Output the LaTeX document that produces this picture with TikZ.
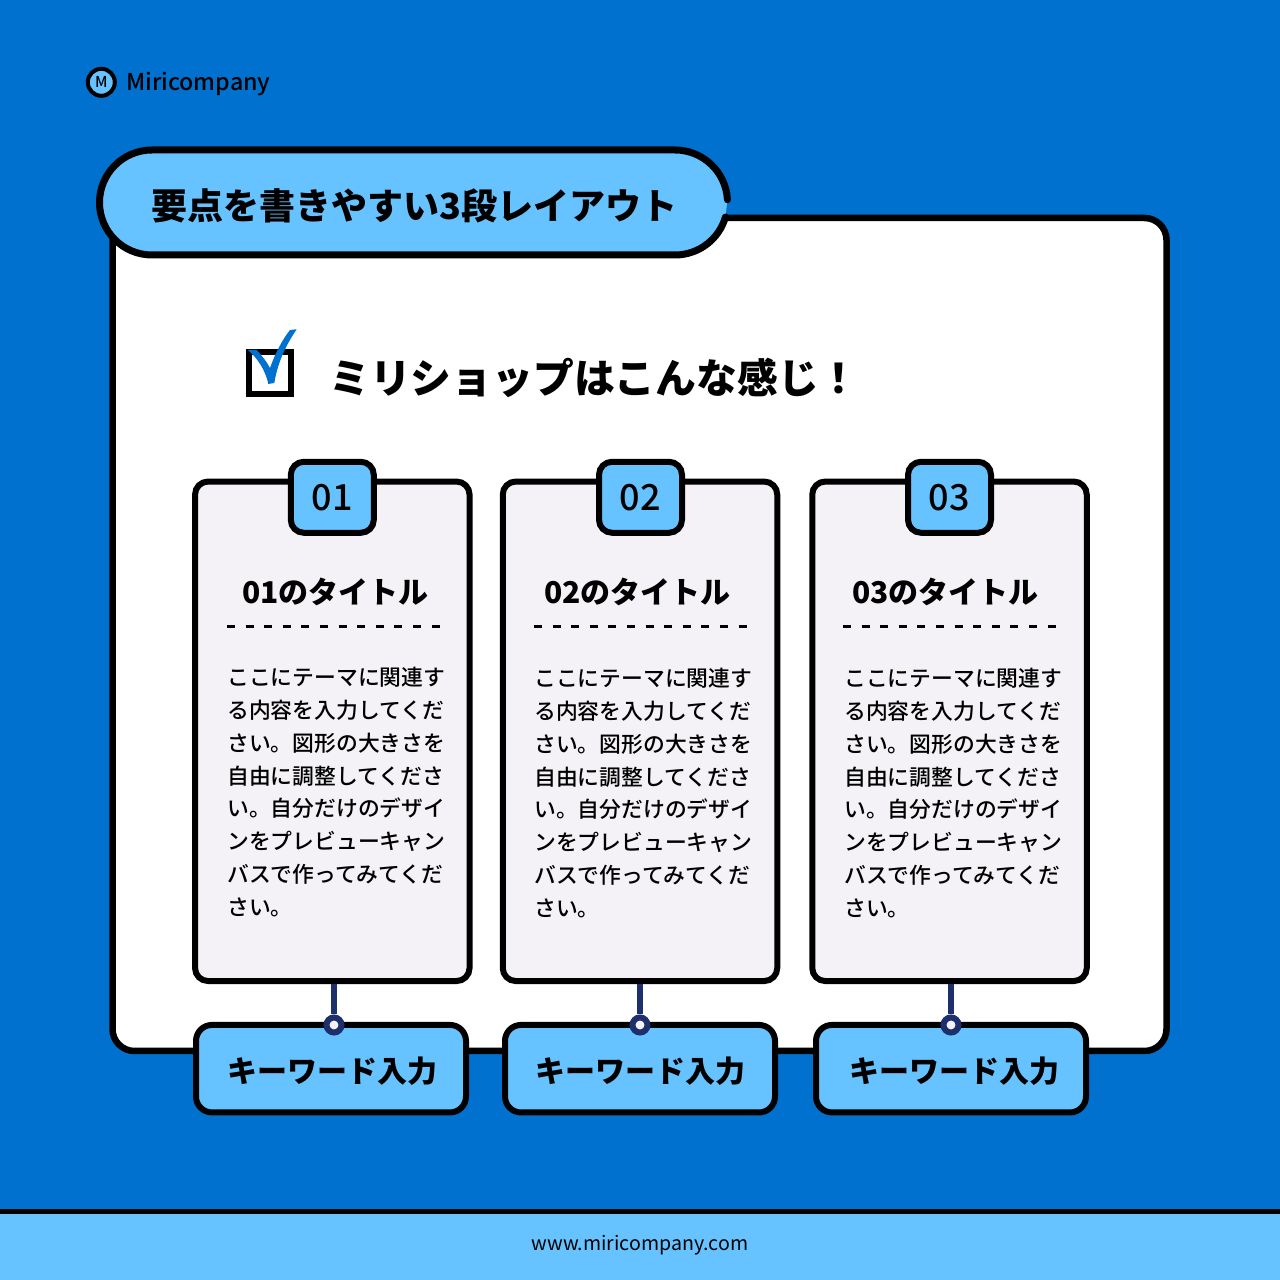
\documentclass[tikz,border=0pt]{standalone}
\usepackage{fontspec}
\setmainfont{Noto Sans CJK JP}
\newfontfamily\jpblack{Noto Sans CJK JP Black}
\newfontfamily\jpmed{Noto Sans CJK JP Medium}
\definecolor{bgblue}{HTML}{0071CE}
\definecolor{skyblue}{HTML}{66C3FF}
\definecolor{cardgrey}{HTML}{F4F2F6}
\definecolor{pinnavy}{HTML}{1E2F6E}
\tikzset{
  cardbox/.style={draw=black,line width=6pt,fill=cardgrey,rounded corners=13pt,minimum width=274.5pt,minimum height=499.5pt,inner sep=0pt},
  tagbox/.style={draw=black,line width=6pt,fill=skyblue,rounded corners=13pt,minimum width=83pt,minimum height=71pt,inner sep=0pt,font=\jpmed\fontsize{36}{36}\selectfont},
  keybox/.style={draw=black,line width=6pt,fill=skyblue,rounded corners=16pt,minimum width=270pt,minimum height=87.5pt,inner sep=0pt},
  keytext/.style={inner sep=0pt,font=\jpblack\fontsize{30}{30}\selectfont},
  headtext/.style={inner sep=0pt,font=\jpblack\fontsize{30}{30}\selectfont},
  bodytext/.style={inner sep=0pt,anchor=north west,align=left,font=\jpmed\fontsize{21.8}{32.85}\selectfont},
  pin/.style={circle,draw=pinnavy,line width=6pt,fill=cardgrey,minimum size=15pt,inner sep=0pt},
}
\begin{document}
\begin{tikzpicture}[x=1pt,y=1pt]
  \useasboundingbox (0,0) rectangle (1280,1280);
  \fill[bgblue] (0,0) rectangle (1280,1280);
  % footer
  \draw[fill=skyblue,draw=black,line width=5pt] (-5,-5) rectangle (1285,68.5);
  \node[inner sep=0pt,font=\fontsize{19.6}{19.6}\selectfont] (site) at (640,34.5) {www.miricompany.com};
  % logo
  \node[circle,draw=black,line width=4pt,fill=skyblue,minimum size=27pt,inner sep=0pt,font=\jpmed\fontsize{15}{15}\selectfont] (logo) at (101.3,1197.7) {M};
  \node[inner sep=0pt,anchor=west,font=\jpmed\fontsize{23.2}{23.2}\selectfont] (brand) at (126,1196) {Miricompany};
  % panel and pill
  \draw[fill=white,line width=6.5pt,rounded corners=22pt] (112.5,229) rectangle (1166.5,1062);
  \draw[fill=skyblue,line width=7pt,line cap=round] (727.43,1080.25) arc[start angle=3,end angle=90,radius=52.5] -- (152,1130) arc[start angle=90,end angle=270,radius=52.5] -- (675,1025) arc[start angle=-90,end angle=-16,radius=52.5];
  \node[inner sep=0pt,font=\jpblack\fontsize{36}{36}\selectfont] (pilltext) at (414.5,1074) {要点を書きやすい3段レイアウト};
  % check mark
  \draw[line width=6pt] (248.7,886.3) rectangle (291,927.7);
  \fill[bgblue] (247.7,930) -- (256.7,930) .. controls (262,924) and (267,918) .. (270,912) .. controls (275,926) and (282,940) .. (290,950) -- (296.7,950.7) .. controls (288,938) and (278,920) .. (274.3,897) -- (268.3,896) .. controls (266,908) and (258,922) .. (247.7,930) -- cycle;
  \node[inner sep=0pt,anchor=west,font=\jpblack\fontsize{40.8}{40.8}\selectfont] (heading) at (329,902) {ミリショップはこんな感じ！};
  % cards
  \foreach \n/\tag/\cardx/\tagx/\keyx/\keytx/\pinx/\headx/\linex/\textx/\dy in {
      1/01/332.3/332.3/331/332/334/335.5/227/227/0,
      2/02/640/640.5/640/640/640/637.5/534/534/1,
      3/03/949.5/949.5/951/954/951/945.5/843/844/1}{
    \node[cardbox] (card\n) at (\cardx,548.7) {};
    \node[tagbox] (tag\n) at (\tagx,782.7) {\raisebox{-1.5pt}{\tag}};
    \node[headtext] (head\n) at (\headx,688) {\tag のタイトル};
    \draw[line width=3pt,dash pattern=on 8pt off 10.6pt] (\linex,653.5) coordinate (rulea\n) -- ++(213,0) coordinate (ruleb\n);
    \node[bodytext] (body\n) at (\textx,{613-\dy}) {ここにテーマに関連す\\る内容を入力してくだ\\さい。図形の大きさを\\自由に調整してくださ\\い。自分だけのデザイ\\ンをプレビューキャン\\バスで作ってみてくだ\\さい。};
    \node[keybox] (key\n) at (\keyx,211.3) {};
    \node[keytext] (keyt\n) at (\keytx,209) {キーワード入力};
    \node[pin] (pin\n) at (\pinx,255) {};
    \draw[pinnavy,line width=6.5pt] (pin\n |- card\n.south) -- (pin\n);
  }
\end{tikzpicture}
\end{document}
